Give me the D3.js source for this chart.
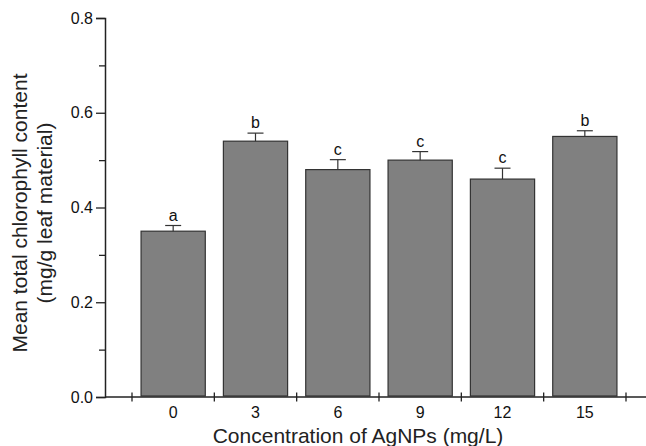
<!DOCTYPE html>
<html>
<head>
<meta charset="utf-8">
<script src="https://cdn.jsdelivr.net/npm/d3@7"></script>
<style>
  body { margin: 0; background: #fff; }
  svg { font-family: "Liberation Sans", Arial, sans-serif; }
</style>
</head>
<body>
<div id="chart"></div>
<script>
// chart data
const categories = ["0", "3", "6", "9", "12", "15"];
const means = [0.35, 0.54, 0.48, 0.50, 0.46, 0.55];
const errors = [0.012, 0.017, 0.021, 0.018, 0.023, 0.012];
const letters = ["a", "b", "c", "c", "c", "b"];
const yTicks = [0, 0.2, 0.4, 0.6, 0.8];
const yMinorTicks = [0.1, 0.3, 0.5, 0.7];

const W = 646, H = 446;
const margin = {top: 18, right: 0, bottom: 49, left: 105};
const width = W - margin.left - margin.right;
const height = H - margin.top - margin.bottom;

const svg = d3.select("#chart")
  .append("svg")
  .attr("width", W)
  .attr("height", H);

const g = svg.append("g")
  .attr("transform", `translate(${margin.left},${margin.top})`);

// scales
const x = d3.scaleBand()
  .domain(categories)
  .range([27, 521])
  .paddingInner(0.22)
  .paddingOuter(0.11);

const y = d3.scaleLinear()
  .domain([0, 0.8])
  .range([height, 0]);

// bars
g.selectAll(".bar")
  .data(means)
  .enter()
  .append("rect")
  .attr("class", "bar")
  .attr("x", (d, i) => x(categories[i]))
  .attr("y", d => y(d))
  .attr("width", x.bandwidth())
  .attr("height", d => y(0) - y(d) - 1)
  .attr("fill", "#808080")
  .attr("stroke", "#333")
  .attr("stroke-width", 1.2);

// error bars (upper only)
const cx = i => x(categories[i]) + x.bandwidth() / 2;
const err = g.append("g").attr("stroke", "#333").attr("stroke-width", 1.2);
means.forEach((m, i) => {
  err.append("line")
    .attr("x1", cx(i)).attr("x2", cx(i))
    .attr("y1", y(m)).attr("y2", y(m + errors[i]));
  err.append("line")
    .attr("x1", cx(i) - 8).attr("x2", cx(i) + 8)
    .attr("y1", y(m + errors[i])).attr("y2", y(m + errors[i]));
});

// significance letters
g.selectAll(".letter")
  .data(letters)
  .enter()
  .append("text")
  .attr("class", "letter")
  .attr("x", (d, i) => cx(i))
  .attr("y", (d, i) => y(means[i] + errors[i]) - 5)
  .attr("text-anchor", "middle")
  .style("font-size", "16px")
  .attr("fill", "#111")
  .text(d => d);

// y axis with minor ticks
g.append("g")
  .attr("class", "y minor")
  .call(d3.axisLeft(y).tickValues(yMinorTicks).tickSize(6).tickFormat(""))
  .call(a => a.select(".domain").remove())
  .selectAll("line").attr("stroke", "#222").attr("stroke-width", 1.3);

const yAxis = g.append("g")
  .attr("class", "y axis")
  .call(d3.axisLeft(y).tickValues(yTicks).tickSize(9).tickPadding(3).tickFormat(d3.format(".1f")));
yAxis.select(".domain").attr("stroke", "#222").attr("stroke-width", 1.5);
yAxis.selectAll("line").attr("stroke", "#222").attr("stroke-width", 1.3);
yAxis.selectAll("text").style("font-size", "16px").attr("fill", "#111");

// x axis: line across, labels under bars, crosses at band boundaries
const xAxis = g.append("g")
  .attr("class", "x axis")
  .attr("transform", `translate(0,${height})`)
  .call(d3.axisBottom(x).tickSize(0).tickPadding(10));
xAxis.select(".domain").remove();
xAxis.selectAll("text").style("font-size", "16px").attr("fill", "#111");

xAxis.append("line")
  .attr("x1", 0).attr("x2", width + 10)
  .attr("stroke", "#222").attr("stroke-width", 1.5);

const step = x.step();
const bounds = categories.map(c => x(c) - step * x.paddingInner() / 2);
bounds.push(x(categories[categories.length - 1]) + x.bandwidth() + step * x.paddingInner() / 2);
xAxis.selectAll(".cross")
  .data(bounds)
  .enter()
  .append("line")
  .attr("class", "cross")
  .attr("x1", d => d).attr("x2", d => d)
  .attr("y1", -4.5).attr("y2", 4.5)
  .attr("stroke", "#222").attr("stroke-width", 1.3);

// axis titles
svg.append("text")
  .attr("x", 358)
  .attr("y", 443)
  .attr("text-anchor", "middle")
  .style("font-size", "21px")
  .attr("fill", "#222")
  .text("Concentration of AgNPs (mg/L)");

const yTitle = svg.append("text")
  .attr("transform", "translate(0,213) rotate(-90)")
  .attr("text-anchor", "middle")
  .style("font-size", "21px")
  .attr("fill", "#222");
yTitle.append("tspan").attr("x", 0).attr("y", 27).text("Mean total chlorophyll content");
yTitle.append("tspan").attr("x", 0).attr("y", 52).text("(mg/g leaf material)");
</script>
</body>
</html>
